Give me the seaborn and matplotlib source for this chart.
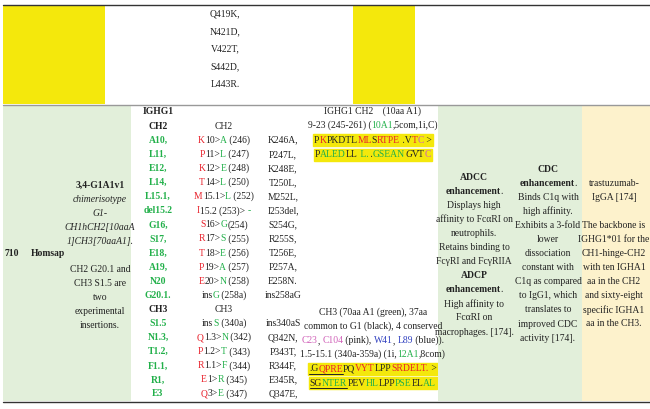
import re
import matplotlib
matplotlib.use("Agg")
import matplotlib.pyplot as plt
import seaborn as sns
from matplotlib.patches import Rectangle

sns.set_theme(style="white")
plt.rcParams['font.family'] = ['Liberation Serif', 'DejaVu Serif']

# ---------------- data ----------------
top_mutations = ["Q419K,", "N421D,", "V422T,", "S442D,", "L443R."]
imgt_positions = ["{kB:IGHG1}", "{kB:CH2}", "{gB:A10,}", "{gB:L11,}", "{gB:E12,}", "{gB:L14,}",
                  "{gB:L15.1,}", "{gB:del15.2}", "{gB:G16,}", "{gB:S17,}", "{gB:E18,}", "{gB:A19,}",
                  "{gB:N20}", "{gB:G20.1.}", "{kB:CH3}", "{gB:S1.5}", "{gB:N1.3,}", "{gB:T1.2,}",
                  "{gB:F1.1,}", "{gB:R1,}", "{gB:E3}"]
imgt_changes = ["", "CH2", "{r:K}10>{g:A} (246)", "{r:P}11>{g:L} (247)", "{r:K}12>{g:E} (248)",
                "{r:T}14>{g:L} (250)", "{r:M}15.1>{g:L} (252)", "{r:I}15.2 (253)> {g:-}",
                "{r:S}16>{g:G}(254)", "{r:R}17>{g:S} (255)", "{r:T}18>{g:E} (256)", "{r:P}19>{g:A} (257)",
                "{r:E}20>{g:N} (258)", "ins{g:G} (258a)", "CH3", "ins{g:S} (340a)", "{r:Q}1.3>{g:N} (342)",
                "{r:P}1.2>{g:T} (343)", "{r:R}1.1>{g:F} (344)", "{r:E}1>{g:R} (345)", "{r:Q}3>{g:E} (347)"]
eu_changes = ["", "", "K246A,", "P247L,", "K248E,", "T250L,", "M252L,", "I253del,", "S254G,", "R255S,",
              "T256E,", "P257A,", "E258N.", "ins258aG", "", "ins340aS", "Q342N,", "P343T,", "R344F,",
              "E345R,", "Q347E,"]
ch2_desc = ["IGHG1 CH2    (10aa A1)", "9-23 (245-261) ({g:10A1},5com,1i,C)",
            "@P{r:K}PKDTL{r:ML}S{r:RTPE} .V{r:T}{p:C} >", "@P{g:ALED}LL{g: L.} .{g:GSEAN}{kI:G}VT{p:C}"]
ch3_desc = ["CH3 (70aa A1 (green), 37aa", "common to G1 (black), 4 conserved",
            "{p:C23}, {p:C104} (pink), {u:W41}, {u:L89} (blue)).", "1.5-15.1 (340a-359a) (1i,{g:12A1},8com)",
            "@{kU:.G}{rU:QPRE}PQ{r:VYT}LPP{r:SRDELT.} >", "@{kU:SG}{gU:NTER}PEV{g:HL}LPP{g:PSE}EL{g:AL}"]
name_lines = ["{kB:3,4-G1A1v1}", "{kI:chimerisotype}", "{kI:G1-}", "{kI:CH1hCH2[10aaA}", "{kI:1]CH3[70aaA1].}",
              "", "CH2 G20.1 and", "CH3 S1.5 are", "two", "experimental", "insertions."]
adcc_lines = ["{kB:ADCC}", "{kB:enhancement}.", "Displays high", "affinity to FcαRI on", "neutrophils.",
              "Retains binding to", "FcγRI and FcγRIIA", "{kB:ADCP}", "{kB:enhancement}.", "High affinity to",
              "FcαRI on", "macrophages. [174]."]
cdc_lines = ["{kB:CDC}", "{kB:enhancement}.", "Binds C1q with", "high affinity.", "Exhibits a 3-fold", "lower",
             "dissociation", "constant with", "C1q as compared", "to IgG1, which", "translates to",
             "improved CDC", "activity [174]."]
ref_lines = ["trastuzumab-", "IgGA [174]", "", "The backbone is", "IGHG1*01 for the", "CH1-hinge-CH2",
             "with ten IGHA1", "aa in the CH2", "and sixty-eight", "specific IGHA1", "aa in the CH3."]

COL = {'k': '#222222', 'r': '#e8202a', 'g': '#22b04a', 'p': '#d060b8', 'u': '#3040c0'}
YEL, GRN, CRM = '#f4e80c', '#e2efda', '#fdf2cc'
FS = 6.9

fig = plt.figure(figsize=(6.5, 4.09), dpi=100)
ax = fig.add_axes([0, 0, 1, 1])
ax.set_xlim(0, 650)
ax.set_ylim(409, 0)
ax.axis('off')
renderer = fig.canvas.get_renderer()


def parse(markup):
    segs = []
    for m in re.finditer(r"\{([a-zA-Z]+):([^}]*)\}|([^{]+)", markup):
        if m.group(3) is not None:
            segs.append((m.group(3), 'k', ''))
        else:
            code = m.group(1)
            segs.append((m.group(2), code[0], code[1:]))
    return segs


def measure(txt, **kw):
    a = ax.text(0, 0, "|" + txt + "|", fontsize=FS, **kw)
    b = ax.text(0, 0, "||", fontsize=FS, **kw)
    w = a.get_window_extent(renderer).width - b.get_window_extent(renderer).width
    a.remove()
    b.remove()
    return w


def rich(x, y, markup, ha='center'):
    hl = markup.startswith('@')
    if hl:
        markup = markup[1:]
    segs = parse(markup)
    objs, widths = [], []
    for txt, c, mods in segs:
        kw = dict(fontweight='bold' if 'B' in mods else 'normal',
                  fontstyle='italic' if 'I' in mods else 'normal')
        t = ax.text(0, y, txt, color=COL[c], fontsize=FS, va='center', ha='left', **kw)
        objs.append((t, 'U' in mods))
        widths.append(measure(txt, **kw))
    total = sum(widths)
    x0 = x - total / 2 if ha == 'center' else (x - total if ha == 'right' else x)
    if hl:
        ax.add_patch(Rectangle((x0 - 1, y - 6), total + 2, 12, color=YEL, zorder=0))
    cx = x0
    for (t, ul), w in zip(objs, widths):
        t.set_x(cx)
        if ul:
            ax.plot([cx, cx + w], [y + 5, y + 5], color='#222222', lw=0.7)
        cx += w


# backgrounds
ax.add_patch(Rectangle((3, 5), 102, 99, color=YEL, lw=0))
ax.add_patch(Rectangle((353, 5), 62, 99, color=YEL, lw=0))
ax.add_patch(Rectangle((3, 105), 128, 296, color=GRN, lw=0))
ax.add_patch(Rectangle((438, 105), 144, 296, color=GRN, lw=0))
ax.add_patch(Rectangle((582, 105), 68, 296, color=CRM, lw=0))
ax.plot([3, 650], [4.5, 4.5], color='#333333', lw=1.0)
ax.plot([3, 650], [104.5, 104.5], color='#999999', lw=1.0)
ax.plot([3, 650], [402, 402], color='#333333', lw=1.0)

for i, s in enumerate(top_mutations):
    rich(225, 14 + i * 17.6, s)

step = 14.1
for i, s in enumerate(imgt_positions):
    y = 112 + i * step
    rich(158, y, s)
    rich(224, y, imgt_changes[i])
    rich(283, y, eu_changes[i])
for i, s in enumerate(ch2_desc):
    rich(373, 111 + i * 14.6, s)
for i, s in enumerate(ch3_desc):
    rich(373, 312 + i * 14.2, s)
for i, s in enumerate(name_lines):
    rich(100, 185 + i * step, s)
rich(12, 254, "{kB:710}")
rich(48, 254, "{kB:Homsap}")
for i, s in enumerate(adcc_lines):
    rich(474, 177 + i * step, s)
for i, s in enumerate(cdc_lines):
    rich(548, 169 + i * step, s)
for i, s in enumerate(ref_lines):
    rich(614, 183 + i * step, s)

fig.savefig("out.png", dpi=100)
